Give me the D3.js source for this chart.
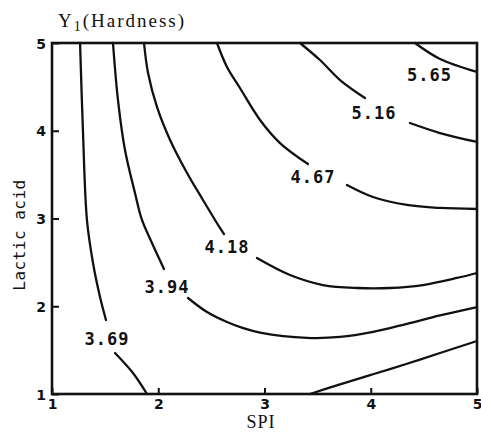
<!DOCTYPE html>
<html>
<head>
<meta charset="utf-8">
<script src="https://cdn.jsdelivr.net/npm/d3@7"></script>
<style>
  html, body { margin: 0; padding: 0; background: #fff; }
  svg { display: block; }
</style>
</head>
<body>
<svg id="chart" width="481" height="441"></svg>
<script>
// Axis ticks
const xTicks = [1, 2, 3, 4, 5];
const yTicks = [1, 2, 3, 4, 5];

// Contour lines of hardness over SPI (x) and lactic acid (y).
// Each contour is split into pieces where its value label sits.
const contour369 = [
  [[1.264, 5.0], [1.292, 3.974], [1.329, 2.983], [1.386, 2.493], [1.452, 2.105], [1.508, 1.843]],
  [[1.593, 1.467], [1.762, 1.239], [1.894, 1.0]]
];
const contour394 = [
  [[1.574, 5.0], [1.621, 4.350], [1.687, 3.781], [1.781, 3.291], [1.847, 2.983], [1.941, 2.721], [2.054, 2.425]],
  [[2.280, 2.094], [2.459, 1.934], [2.647, 1.820], [2.800, 1.750], [2.958, 1.700], [3.400, 1.640],
   [3.711, 1.650], [4.021, 1.707], [4.341, 1.800], [4.652, 1.895], [5.0, 1.991]]
];
const contour418 = [
  [[1.866, 5.0], [1.904, 4.658], [1.988, 4.271], [2.111, 3.895], [2.271, 3.519], [2.421, 3.211], [2.581, 2.892], [2.619, 2.823]],
  [[2.929, 2.550], [3.240, 2.356], [3.551, 2.242], [3.871, 2.208], [4.181, 2.208], [4.492, 2.242], [4.812, 2.322], [5.0, 2.379]]
];
const contour467 = [
  [[2.553, 5.0], [2.647, 4.726], [2.769, 4.487], [2.958, 4.123], [3.146, 3.860], [3.409, 3.621]],
  [[3.776, 3.382], [4.021, 3.245], [4.341, 3.154], [4.652, 3.120], [5.0, 3.108]]
];
const contour516 = [
  [[3.334, 5.0], [3.522, 4.806], [3.711, 4.578], [3.946, 4.373]],
  [[4.369, 4.088], [4.652, 3.974], [5.0, 3.872]]
];
const contour565 = [
  [[4.416, 5.0], [4.652, 4.818], [5.0, 4.670]]
];
const contourLow = [
  [[3.428, 1.0], [3.711, 1.110], [4.021, 1.225], [4.341, 1.345], [4.652, 1.467], [5.0, 1.604]]
];

// Contour value labels and where they sit (SPI, lactic acid)
const labelText = ["3.69", "3.94", "4.18", "4.67", "5.16", "5.65"];
const labelSpi  = [1.518, 2.082, 2.647, 3.456, 4.031, 4.553];
const labelAcid = [1.627, 2.219, 2.675, 3.473, 4.202, 4.636];

const svg = d3.select("#chart");
const margin = { left: 52, right: 4, top: 43, bottom: 47 };
const W = 481, H = 441;

const x = d3.scaleLinear().domain([1, 5]).range([margin.left, W - margin.right]);
const y = d3.scaleLinear().domain([1, 5]).range([H - margin.bottom, margin.top]);

const ink = "#111";

// Contour lines
const line = d3.line().x(d => x(d[0])).y(d => y(d[1])).curve(d3.curveCatmullRom.alpha(0.5));
const allContours = [contour369, contour394, contour418, contour467, contour516, contour565, contourLow];
svg.append("g").selectAll("path")
  .data(allContours.flat())
  .join("path")
  .attr("d", line)
  .attr("fill", "none")
  .attr("stroke", ink)
  .attr("stroke-width", 2.3)
  .attr("stroke-linecap", "round");

// Frame
svg.append("rect")
  .attr("x", x(1)).attr("y", y(5))
  .attr("width", x(5) - x(1)).attr("height", y(1) - y(5))
  .attr("fill", "none").attr("stroke", ink).attr("stroke-width", 2.6);

// Axes with inward ticks
const xAxis = svg.append("g")
  .attr("transform", `translate(0,${y(1)})`)
  .call(d3.axisBottom(x).tickValues(xTicks).tickFormat(d3.format("d")).tickSize(-6).tickPadding(5));
const yAxis = svg.append("g")
  .attr("transform", `translate(${x(1)},0)`)
  .call(d3.axisLeft(y).tickValues(yTicks).tickFormat(d3.format("d")).tickSize(-7).tickPadding(6));
[xAxis, yAxis].forEach(g => {
  g.select(".domain").remove();
  g.selectAll(".tick line").attr("stroke", ink).attr("stroke-width", 2);
  g.selectAll(".tick text")
    .attr("fill", ink)
    .style("font-family", "'DejaVu Sans', sans-serif")
    .style("font-weight", "bold")
    .style("font-size", "14px");
});
yAxis.selectAll(".tick text").attr("dy", "0.36em");

// Contour value labels
svg.append("g").selectAll("text")
  .data(labelText)
  .join("text")
  .attr("x", (d, i) => x(labelSpi[i]))
  .attr("y", (d, i) => y(labelAcid[i]))
  .attr("text-anchor", "middle")
  .attr("dominant-baseline", "central")
  .attr("fill", ink)
  .style("font-family", "'DejaVu Sans Mono', monospace")
  .style("font-weight", "bold")
  .style("font-size", "17px")
  .style("letter-spacing", "1px")
  .text(d => d);

// Title
const title = svg.append("text")
  .attr("x", 58).attr("y", 27)
  .attr("fill", ink)
  .style("font-family", "'Liberation Serif', serif")
  .style("font-size", "19px")
  .style("letter-spacing", "2px");
title.append("tspan").text("Y");
title.append("tspan").attr("dy", 4).style("font-size", "14px").text("1");
title.append("tspan").attr("dy", -4).text("(Hardness)");

// Axis titles
svg.append("text")
  .attr("x", 261).attr("y", 428)
  .attr("text-anchor", "middle")
  .attr("fill", ink)
  .style("font-family", "'Liberation Serif', serif")
  .style("font-size", "18px")
  .style("letter-spacing", "1px")
  .text("SPI");

svg.append("text")
  .attr("transform", "translate(25,235) rotate(-90)")
  .attr("text-anchor", "middle")
  .attr("fill", ink)
  .style("font-family", "'DejaVu Sans Mono', monospace")
  .style("font-size", "16px")
  .style("letter-spacing", "0.5px")
  .text("Lactic acid");
</script>
</body>
</html>
